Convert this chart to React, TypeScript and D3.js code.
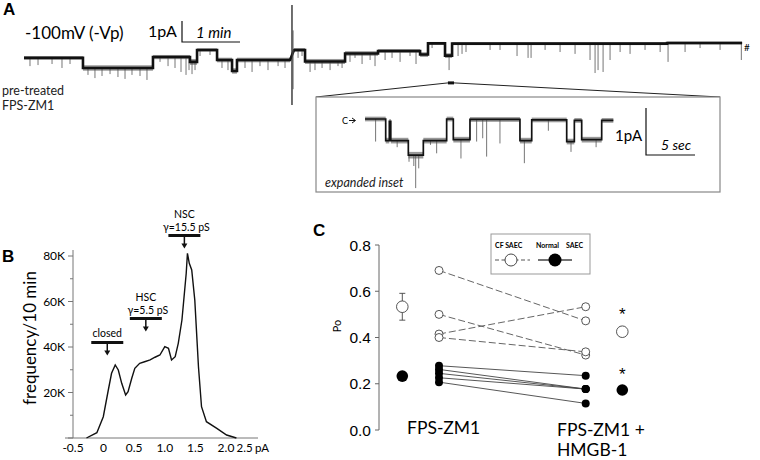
import React from 'react';
import * as d3 from 'd3';

// ---------- Panel A: main trace (time s, open amplitude pA below closed level) ----------
// [tStart, tEnd, amplitude, noise]
const mainSegments: [number, number, number, number][] = [
  [0, 61, 0.71, 0.08],
  [61, 133.4, 1.19, 0.13],
  [133.4, 171.7, 0.67, 0.1],
  [171.7, 179, 0.9, 0.14],
  [179, 199.7, 0.33, 0.08],
  [199.7, 215.2, 0.81, 0.11],
  [215.2, 220.3, 1.33, 0.13],
  [220.3, 275.2, 0.81, 0.11],
  [279.3, 290.7, 0.33, 0.09],
  [290.7, 332.1, 0.88, 0.12],
  [332.1, 366.2, 0.5, 0.11],
  [366.2, 409.7, 0.38, 0.09],
  [409.7, 417.9, 0.55, 0.11],
  [417.9, 435.5, 0.02, 0.07],
  [435.5, 442.8, 0.6, 0.11],
  [442.8, 665.2, 0.03, 0.07],
  [665.2, 742.8, 0.0, 0.07],
];
// [time, lowest amplitude reached]
const mainSpikes: [number, number][] = [
  [6.2, 1.1], [14.5, 1.05], [29, 1.0], [39.3, 1.19], [47.6, 1.0],
  [66.2, 1.52], [73.4, 1.67], [80.7, 1.57], [89, 1.48], [97.2, 1.62], [104.5, 1.71], [111.7, 1.52], [120, 1.57], [127.2, 1.76],
  [140.7, 0.9], [149, 1.1], [156.2, 1.19], [162.4, 1.38], [167.6, 1.52], [170.7, 1.29],
  [173.8, 1.48], [176.9, 1.29], [182.1, 0.62], [192.4, 0.57],
  [204.8, 1.19], [211, 1.29], [228.6, 1.19], [235.9, 1.38], [244.1, 1.1], [252.4, 1.29], [262.8, 1.1], [270, 1.19],
  [283.5, 0.71], [287.6, 0.62],
  [295.9, 1.38], [301, 1.29], [308.3, 1.19], [316.6, 1.29], [324.8, 1.1], [329, 1.19],
  [337.2, 0.9], [342.4, 0.71], [349.7, 1.0], [358, 0.81], [363.1, 1.1],
  [373.5, 0.81], [380.7, 0.71], [389, 0.9], [399.3, 0.62], [405.5, 1.0],
  [422.1, 0.24], [439.7, 1.29],
  [449, 0.62], [453.1, 0.52], [457.2, 0.43], [482.1, 0.33], [492.4, 0.33], [510, 0.62], [521.4, 0.71], [524.5, 0.71],
  [539, 0.33], [554.5, 0.43], [570, 0.52], [585.5, 0.81], [590.7, 1.43], [593.8, 1.29], [599, 1.38], [606.2, 0.81],
  [616.6, 0.43], [626.9, 0.52], [642.4, 0.33], [658, 0.43], [666.2, 0.9], [683.8, 0.43], [699.3, 0.24], [720, 0.33], [742, 0.81],
];
// [time, top, bottom]
const mainArtifact: [number, number, number] = [277.2, -1.81, 2.95];
const insetWindow: [number, number] = [438.5, 444.8];

// ---------- Panel A: expanded inset ----------
const insetSegments: [number, number, number, number][] = [
  [0.92, 3.03, 0, 0.05], [3.03, 3.4, 0.46, 0.06], [3.4, 3.55, 0.05, 0.05], [3.55, 5.34, 0.46, 0.06],
  [5.34, 6.87, 0.77, 0.07], [6.87, 9.25, 0.46, 0.06], [9.25, 9.93, 0, 0.05], [9.93, 11.63, 0.44, 0.06],
  [11.63, 16.73, 0.01, 0.05], [16.73, 17.93, 0.46, 0.06], [17.93, 21.5, 0.02, 0.05], [21.5, 22.28, 0.48, 0.06],
  [22.28, 23.03, 0.03, 0.05], [23.03, 25.07, 0.44, 0.06], [25.07, 26.26, 0.03, 0.05],
];
const insetSpikes: [number, number][] = [
  [2.0, 0.48], [4.2, 0.6], [5.41, 0.91], [5.9, 1.0], [6.09, 1.47], [6.4, 1.05], [7.6, 0.55], [8.23, 0.73],
  [10.71, 0.84], [12.31, 0.48], [12.93, 0.41], [13.33, 0.8], [14.69, 0.52], [17.18, 0.94], [19.63, 0.25],
  [21.94, 0.7], [24.5, 0.6],
];

// ---------- Panel B: amplitude histogram ----------
const histCurrent = [-0.28, -0.11, -0.005, 0.077, 0.13, 0.19, 0.24, 0.296, 0.36, 0.4, 0.46, 0.51, 0.59, 0.67, 0.76, 0.84, 0.92, 1.0, 1.06, 1.11, 1.17, 1.22, 1.28, 1.31, 1.35, 1.37, 1.4, 1.44, 1.49, 1.55, 1.6, 1.68, 1.85, 2.01, 2.17];
const histCount = [0, 2330, 9360, 21100, 28440, 32090, 29900, 24040, 18900, 20350, 26240, 30640, 32830, 33500, 34300, 35500, 36480, 40130, 39430, 34300, 35740, 41630, 51870, 60660, 72400, 81200, 76800, 73850, 60660, 31340, 13760, 7160, 4260, 1320, 0];
const histTicksX = [-0.5, 0, 0.5, 1.0, 1.5, 2.0];
const histTickLabelsX = ['-0.5', '0', '0.5', '1.0', '1.5', '2.0'];
const histLastLabel = '2.5';
const histUnit = 'pA';
const histTicksY = [20000, 40000, 60000, 80000];
const histTickLabelsY = ['20K', '40K', '60K', '80K'];
const histStates = ['closed', 'HSC', 'NSC'];
const histStateCenters = [0.06, 0.69, 1.32];
const histStateLines = [['closed'], ['HSC', 'γ=5.5 pS'], ['NSC', 'γ=15.5 pS']];
const histStateBarLevel = [42000, 52500, 89000];

// ---------- Panel C: open probability ----------
const cfBefore = [0.69, 0.5, 0.415, 0.4];
const cfAfter = [0.472, 0.324, 0.533, 0.338];
const normalBefore = [0.278, 0.262, 0.245, 0.226, 0.207];
const normalAfter = [0.235, 0.177, 0.177, 0.177, 0.115];
const cfMean = [0.533, 0.425];
const cfSem = [0.058, 0.02];
const normalMean = [0.233, 0.173];
const poTicks = [0, 0.2, 0.4, 0.6, 0.8];
const groups = ['meanBefore', 'before', 'after', 'meanAfter'];

const SANS = 'Lato, "Open Sans", sans-serif';
const ARIAL = '"Liberation Sans", Arial, sans-serif';

function levelAt(segs: [number, number, number, number][], t: number) {
  const s = segs.find((g) => t >= g[0] && t <= g[1]);
  return s ? s[2] : 0;
}

function Trace({ segs, spikes, x, y, core }: any) {
  const path = d3.path();
  segs.forEach((s: number[], i: number) => {
    if (i === 0) path.moveTo(x(s[0]), y(s[2]));
    else path.lineTo(x(s[0]), y(s[2]));
    path.lineTo(x(s[1]), y(s[2]));
  });
  return (
    <g>
      {spikes.map((sp: number[], i: number) => (
        <line key={i} x1={x(sp[0])} x2={x(sp[0])} y1={y(levelAt(segs, sp[0]))} y2={y(sp[1])} stroke="#666" strokeWidth={0.9} />
      ))}
      {segs.map((s: number[], i: number) => (
        <rect key={i} x={x(s[0])} width={Math.max(0.5, x(s[1]) - x(s[0]))} y={y(s[2] - s[3])} height={y(s[2] + s[3]) - y(s[2] - s[3])} fill="#555" opacity={0.6} />
      ))}
      <path d={path.toString()} fill="none" stroke="#111" strokeWidth={core} />
    </g>
  );
}

export default function App() {
  // Panel A scales
  const xA = d3.scaleLinear().domain([0, 743]).range([24, 742.3]);
  const yA = d3.scaleLinear().domain([0, 1]).range([43, 64]);
  const xI = d3.scaleLinear().domain([0, 5]).range([356, 405]);
  const yI = d3.scaleLinear().domain([0, 1]).range([119, 166]);
  const box = { x0: 316, y0: 97, x1: 720, y1: 192 };
  const markY = yA(1.9);

  // Panel B scales
  const xB = d3.scaleLinear().domain([0, 1]).range([103.6, 164.8]);
  const yB = d3.scaleLinear().domain([0, 80000]).range([438, 256]);
  const histLine = d3.line<number>().x((_, i) => xB(histCurrent[i])).y((d) => yB(d));
  const minorY = d3.range(0, 85000, 10000);

  // Panel C scales
  const yC = d3.scaleLinear().domain([0, 0.8]).range([430, 245]);
  const xC = d3.scaleOrdinal<string, number>().domain(groups).range([402.3, 439, 585.7, 622.3]);

  return (
    <div style={{ position: 'absolute', left: 0, top: 0 }}>
      <svg width={760} height={460} style={{ display: 'block', background: '#fff' }}>
        {/* ================= Panel A ================= */}
        <text x={3} y={15} fontFamily={ARIAL} fontWeight="bold" fontSize={17}>A</text>
        <text x={25} y={39} fontFamily={SANS} fontSize={17}>-100mV (-Vp)</text>
        <text x={148} y={37} fontFamily={SANS} fontSize={16}>1pA</text>
        <path d={`M${xA(0) + 158},${yA(0) - 22}V${yA(0) - 1}H${xA(60) + 158}`} fill="none" stroke="#111" strokeWidth={1.2} />
        <text x={196} y={38} fontFamily={SANS} fontStyle="italic" fontSize={15}>1 min</text>

        <Trace segs={mainSegments} spikes={mainSpikes} x={xA} y={yA} core={2.6} />
        <line x1={xA(mainArtifact[0])} x2={xA(mainArtifact[0])} y1={yA(mainArtifact[1])} y2={yA(mainArtifact[2])} stroke="#222" strokeWidth={1.3} />
        <line x1={xA(mainArtifact[0]) + 1} x2={xA(mainArtifact[0]) + 1} y1={yA(-0.6)} y2={yA(2.2)} stroke="#555" strokeWidth={1} />
        <text x={744} y={51} fontFamily={SANS} fontSize={10}>#</text>

        <text x={2} y={95} fontFamily={SANS} fontSize={12.5} fill="#222">pre-treated</text>
        <text x={2} y={110} fontFamily={SANS} fontSize={12.5} fill="#222">FPS-ZM1</text>

        {/* inset marker and zoom lines */}
        <rect x={xA(insetWindow[0])} y={markY - 1.5} width={xA(insetWindow[1]) - xA(insetWindow[0])} height={3} fill="#111" />
        <line x1={xA(insetWindow[0])} y1={markY} x2={box.x0} y2={box.y0} stroke="#222" strokeWidth={1} />
        <line x1={xA(insetWindow[1])} y1={markY} x2={box.x1} y2={box.y0} stroke="#222" strokeWidth={1} />
        <rect x={box.x0} y={box.y0} width={box.x1 - box.x0} height={box.y1 - box.y0} fill="#fff" stroke="#888" strokeWidth={1.2} />

        <text x={342} y={124} fontFamily={SANS} fontSize={9}>C</text>
        <line x1={349} x2={355} y1={120.5} y2={120.5} stroke="#111" strokeWidth={1} />
        <path d="M352,118 L355.5,120.5 L352,123" fill="none" stroke="#111" strokeWidth={1} />
        <Trace segs={insetSegments} spikes={insetSpikes} x={xI} y={yI} core={1.7} />
        <text x={615} y={141} fontFamily={SANS} fontSize={15}>1pA</text>
        <path d={`M646,${yI(0) - 11}V${yI(1) - 11}H${646 + xI(5) - xI(0)}`} fill="none" stroke="#111" strokeWidth={1.2} />
        <text x={661} y={150} fontFamily={SANS} fontStyle="italic" fontSize={14}>5 sec</text>
        <text x={325} y={187} fontFamily={SANS} fontStyle="italic" fontSize={12.5} fill="#222">expanded inset</text>

        {/* ================= Panel B ================= */}
        <text x={2} y={262} fontFamily={ARIAL} fontWeight="bold" fontSize={17}>B</text>
        <text transform="translate(36,338) rotate(-90)" textAnchor="middle" fontFamily={SANS} fontSize={17}>frequency/10 min</text>
        <line x1={73} x2={73} y1={yB(0)} y2={250} stroke="#777" strokeWidth={1} />
        <line x1={65} x2={258} y1={yB(0)} y2={yB(0)} stroke="#777" strokeWidth={1} />
        {minorY.map((v) => (
          <line key={v} x1={v % 20000 === 0 ? 68 : 70} x2={73} y1={yB(v)} y2={yB(v)} stroke="#777" strokeWidth={1} />
        ))}
        {histTicksY.map((v, i) => (
          <text key={v} x={65} y={yB(v) + 4} textAnchor="end" fontFamily={SANS} fontSize={12}>{histTickLabelsY[i]}</text>
        ))}
        {histTicksX.map((v, i) => (
          <text key={v} x={xB(v)} y={452} textAnchor="middle" fontFamily={SANS} fontSize={12}>{histTickLabelsX[i]}</text>
        ))}
        <text x={xB(2.0) + 10.5} y={452} fontFamily={SANS} fontSize={11.5}>{histLastLabel}</text>
        <text x={xB(2.0) + 29} y={452} fontFamily={SANS} fontSize={11.5}>{histUnit}</text>
        <path d={histLine(histCount) || ''} fill="none" stroke="#111" strokeWidth={1.4} />
        {histStates.map((s, i) => {
          const cx = xB(histStateCenters[i]);
          const by = yB(histStateBarLevel[i]);
          const lines = histStateLines[i];
          return (
            <g key={s}>
              {lines.map((l, j) => (
                <text key={j} x={cx + (j === 1 ? 2 : 0)} y={by - 5 - (lines.length - 1 - j) * 13} textAnchor="middle" fontFamily={SANS} fontSize={10.5}>{l}</text>
              ))}
              <line x1={cx - 16} x2={cx + 16} y1={by} y2={by} stroke="#111" strokeWidth={3} />
              <line x1={cx} x2={cx} y1={by} y2={by + 10} stroke="#111" strokeWidth={1.5} />
              <path d={`M${cx - 3},${by + 8} L${cx},${by + 13} L${cx + 3},${by + 8}Z`} fill="#111" />
            </g>
          );
        })}

        {/* ================= Panel C ================= */}
        <text x={313} y={236} fontFamily={ARIAL} fontWeight="bold" fontSize={17}>C</text>
        <line x1={379} x2={379} y1={yC(0)} y2={yC(0.8)} stroke="#666" strokeWidth={1} />
        {poTicks.map((v) => (
          <g key={v}>
            <line x1={375} x2={379} y1={yC(v)} y2={yC(v)} stroke="#666" strokeWidth={1} />
            <text x={371} y={yC(v) + 5.5} textAnchor="end" fontFamily={ARIAL} fontSize={15.5}>{d3.format('.1f')(v)}</text>
          </g>
        ))}
        <text transform="translate(341,326) rotate(-90)" textAnchor="middle" fontFamily={SANS} fontSize={11}>Po</text>

        {cfBefore.map((v, i) => (
          <line key={'cl' + i} x1={xC('before')} x2={xC('after')} y1={yC(v)} y2={yC(cfAfter[i])} stroke="#555" strokeWidth={0.9} strokeDasharray="7,3" />
        ))}
        {normalBefore.map((v, i) => (
          <line key={'nl' + i} x1={xC('before')} x2={xC('after')} y1={yC(v)} y2={yC(normalAfter[i])} stroke="#444" strokeWidth={0.9} />
        ))}
        {cfBefore.map((v, i) => (
          <circle key={'cb' + i} cx={xC('before')} cy={yC(v)} r={4} fill="#fff" stroke="#444" strokeWidth={0.9} />
        ))}
        {cfAfter.map((v, i) => (
          <circle key={'ca' + i} cx={xC('after')} cy={yC(v)} r={4} fill="#fff" stroke="#444" strokeWidth={0.9} />
        ))}
        {normalBefore.map((v, i) => (
          <circle key={'nb' + i} cx={xC('before')} cy={yC(v)} r={4} fill="#000" />
        ))}
        {normalAfter.map((v, i) => (
          <circle key={'na' + i} cx={xC('after')} cy={yC(v)} r={4} fill="#000" />
        ))}
        {['meanBefore', 'meanAfter'].map((g, i) => (
          <g key={g}>
            <line x1={xC(g)} x2={xC(g)} y1={yC(cfMean[i] - cfSem[i])} y2={yC(cfMean[i] + cfSem[i])} stroke="#444" strokeWidth={0.9} />
            <line x1={xC(g) - 3} x2={xC(g) + 3} y1={yC(cfMean[i] + cfSem[i])} y2={yC(cfMean[i] + cfSem[i])} stroke="#444" strokeWidth={0.9} />
            <line x1={xC(g) - 3} x2={xC(g) + 3} y1={yC(cfMean[i] - cfSem[i])} y2={yC(cfMean[i] - cfSem[i])} stroke="#444" strokeWidth={0.9} />
            <circle cx={xC(g)} cy={yC(cfMean[i])} r={5.8} fill="#fff" stroke="#444" strokeWidth={0.9} />
            <circle cx={xC(g)} cy={yC(normalMean[i])} r={5.8} fill="#000" />
          </g>
        ))}
        <text x={xC('meanAfter')} y={yC(cfMean[1]) - 12} textAnchor="middle" fontFamily={ARIAL} fontSize={17}>*</text>
        <text x={xC('meanAfter')} y={yC(normalMean[1]) - 10} textAnchor="middle" fontFamily={ARIAL} fontSize={17}>*</text>

        <text x={407} y={434} fontFamily={SANS} fontSize={17.5}>FPS-ZM1</text>
        <text x={557} y={436} fontFamily={SANS} fontSize={17.5}>FPS-ZM1 +</text>
        <text x={557} y={456} fontFamily={SANS} fontSize={17.5}>HMGB-1</text>

        {/* legend */}
        <rect x={491} y={234} width={99} height={40} fill="#fff" stroke="#999" strokeWidth={1} />
        <text x={495} y={248} fontFamily={SANS} fontWeight="bold" fontSize={7}>CF SAEC</text>
        <text x={536} y={248} fontFamily={SANS} fontWeight="bold" fontSize={7}>Normal</text>
        <text x={566} y={248} fontFamily={SANS} fontWeight="bold" fontSize={7}>SAEC</text>
        <line x1={495} x2={530} y1={260} y2={260} stroke="#555" strokeWidth={1} strokeDasharray="4,2.5" />
        <circle cx={511} cy={260} r={6} fill="#fff" stroke="#333" strokeWidth={0.9} />
        <line x1={538} x2={572} y1={260} y2={260} stroke="#444" strokeWidth={1.3} />
        <circle cx={555} cy={260} r={6.5} fill="#000" />
      </svg>
    </div>
  );
}
